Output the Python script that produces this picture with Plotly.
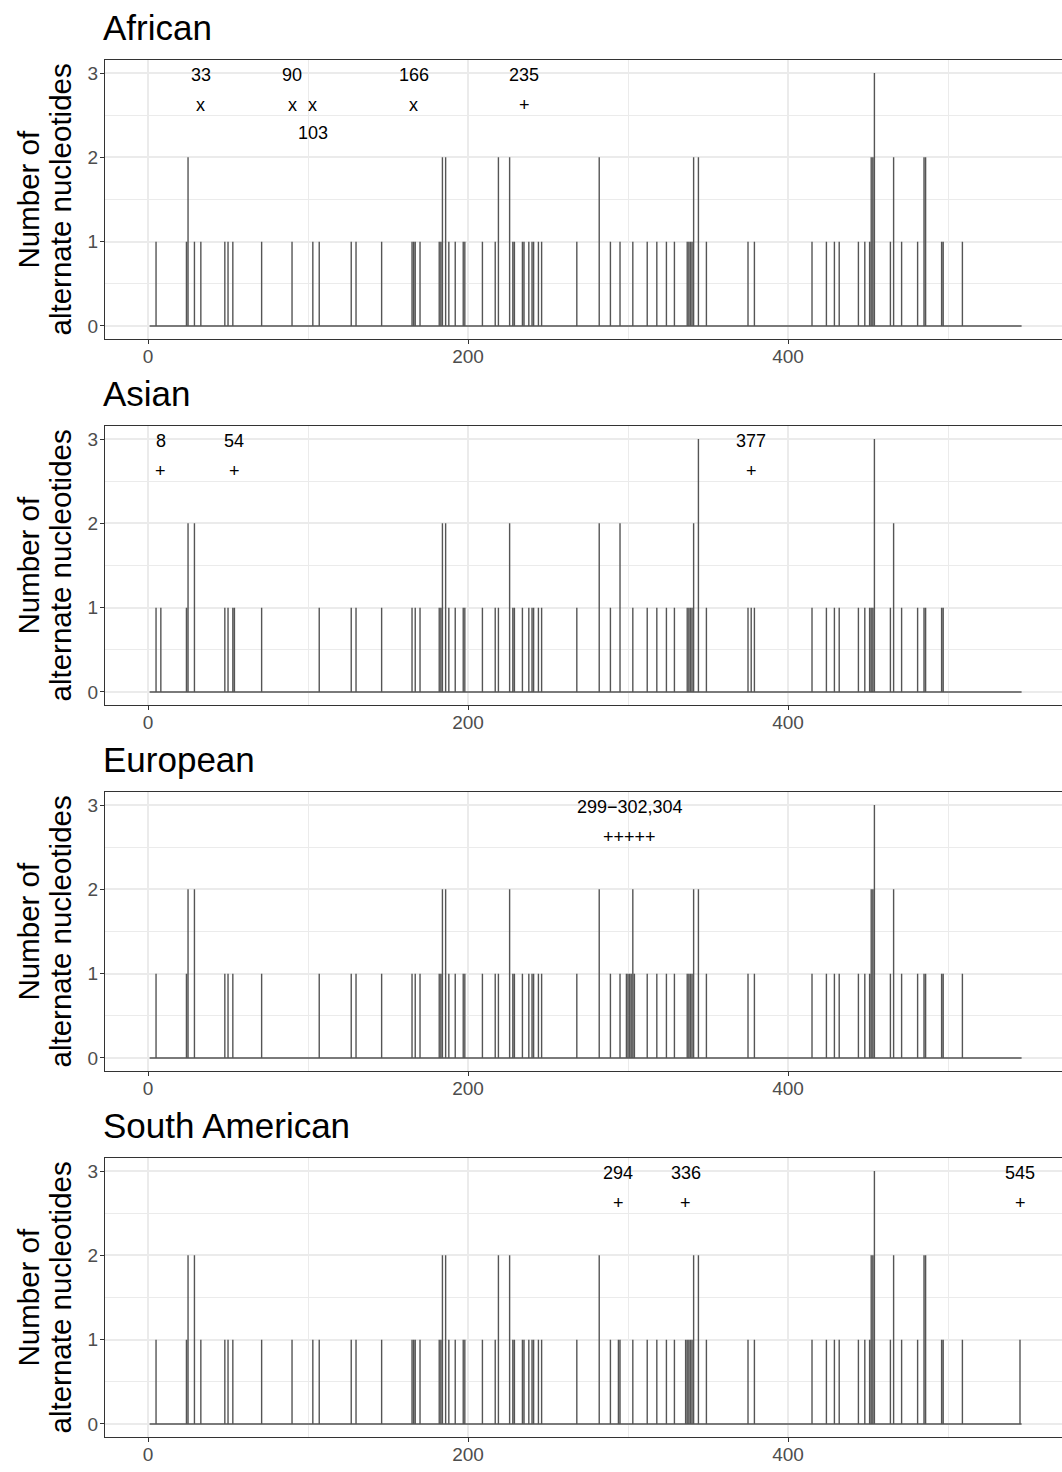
import plotly.graph_objects as go

# ---------------- data ----------------
populations = ["African", "Asian", "European", "South American"]

african_pos = [5, 24, 25, 29, 33, 48, 50, 53, 71, 90, 103, 107, 127, 130, 146, 165, 166, 167, 170,
               182, 183, 184, 186, 188, 192, 197, 198, 209, 217, 219, 226, 228, 229, 234, 235, 238,
               240, 241, 244, 246, 268, 282, 289, 295, 303, 312, 318, 324, 329, 337, 338, 339, 340,
               341, 344, 349, 375, 379, 415, 424, 429, 432, 444, 448, 451, 452, 453, 454, 464, 466,
               471, 481, 485, 486, 496, 497, 509]
african_val = [1, 1, 2, 1, 1, 1, 1, 1, 1, 1, 1, 1, 1, 1, 1, 1, 1, 1, 1,
               1, 1, 2, 2, 1, 1, 1, 1, 1, 1, 2, 2, 1, 1, 1, 1, 1,
               1, 1, 1, 1, 1, 2, 1, 1, 1, 1, 1, 1, 1, 1, 1, 1, 1,
               2, 2, 1, 1, 1, 1, 1, 1, 1, 1, 1, 1, 2, 2, 3, 1, 2,
               1, 1, 2, 2, 1, 1, 1]

asian_pos = [5, 8, 24, 25, 29, 48, 50, 53, 54, 71, 107, 127, 130, 146, 165, 167, 170,
             182, 183, 184, 186, 188, 192, 197, 198, 209, 217, 219, 226, 228, 229, 234, 238,
             240, 241, 244, 246, 268, 282, 289, 295, 303, 312, 318, 324, 329, 337, 338, 339, 340,
             341, 344, 349, 375, 377, 379, 415, 424, 429, 432, 444, 448, 451, 452, 453, 454, 464, 466,
             471, 481, 485, 486, 496, 497]
asian_val = [1, 1, 1, 2, 2, 1, 1, 1, 1, 1, 1, 1, 1, 1, 1, 1, 1,
             1, 1, 2, 2, 1, 1, 1, 1, 1, 1, 1, 2, 1, 1, 1, 1,
             1, 1, 1, 1, 1, 2, 1, 2, 1, 1, 1, 1, 1, 1, 1, 1, 1,
             2, 3, 1, 1, 1, 1, 1, 1, 1, 1, 1, 1, 1, 1, 1, 3, 1, 2,
             1, 1, 1, 1, 1, 1]

european_pos = [5, 24, 25, 29, 48, 50, 53, 71, 107, 127, 130, 146, 165, 167, 170,
                182, 183, 184, 186, 188, 192, 197, 198, 209, 217, 219, 226, 228, 229, 234, 238,
                240, 241, 244, 246, 268, 282, 289, 295, 299, 300, 301, 302, 303, 304, 312, 318, 324,
                329, 337, 338, 339, 340, 341, 344, 349, 375, 379, 415, 424, 429, 432, 444, 448, 451,
                452, 453, 454, 464, 466, 471, 481, 485, 486, 496, 497, 509]
european_val = [1, 1, 2, 2, 1, 1, 1, 1, 1, 1, 1, 1, 1, 1, 1,
                1, 1, 2, 2, 1, 1, 1, 1, 1, 1, 1, 2, 1, 1, 1, 1,
                1, 1, 1, 1, 1, 2, 1, 1, 1, 1, 1, 1, 2, 1, 1, 1, 1,
                1, 1, 1, 1, 1, 2, 2, 1, 1, 1, 1, 1, 1, 1, 1, 1, 1,
                2, 2, 3, 1, 2, 1, 1, 1, 1, 1, 1, 1]

south_american_pos = [5, 24, 25, 29, 33, 48, 50, 53, 71, 90, 103, 107, 127, 130, 146, 165, 166, 167, 170,
                      182, 183, 184, 186, 188, 192, 197, 198, 209, 217, 219, 226, 228, 229, 234, 235, 238,
                      240, 241, 244, 246, 268, 282, 289, 294, 295, 303, 312, 318, 324, 329, 336, 337, 338,
                      339, 340, 341, 344, 349, 375, 379, 415, 424, 429, 432, 444, 448, 451, 452, 453, 454,
                      464, 466, 471, 481, 485, 486, 496, 497, 509, 545]
south_american_val = [1, 1, 2, 2, 1, 1, 1, 1, 1, 1, 1, 1, 1, 1, 1, 1, 1, 1, 1,
                      1, 1, 2, 2, 1, 1, 1, 1, 1, 1, 2, 2, 1, 1, 1, 1, 1,
                      1, 1, 1, 1, 1, 2, 1, 1, 1, 1, 1, 1, 1, 1, 1, 1, 1,
                      1, 1, 2, 2, 1, 1, 1, 1, 1, 1, 1, 1, 1, 1, 2, 2, 3,
                      1, 2, 1, 1, 2, 2, 1, 1, 1, 1]

seq_start = 1
seq_end = 546

# marked sites: position, symbol, label, label height
african_mark_pos = [33, 90, 103, 166, 235]
african_mark_sym = ["x", "x", "x", "x", "+"]
african_mark_lab = ["33", "90", "103", "166", "235"]
african_mark_laby = [2.98, 2.98, 2.29, 2.98, 2.98]

asian_mark_pos = [8, 54, 377]
asian_mark_sym = ["+", "+", "+"]
asian_mark_lab = ["8", "54", "377"]
asian_mark_laby = [2.98, 2.98, 2.98]

european_group = [299, 300, 301, 302, 304]
european_mark_pos = [sum(european_group) / len(european_group)]
european_mark_sym = ["+++++"]
european_mark_lab = ["299\u2212302,304"]
european_mark_laby = [2.98]

south_american_mark_pos = [294, 336, 545]
south_american_mark_sym = ["+", "+", "+"]
south_american_mark_lab = ["294", "336", "545"]
south_american_mark_laby = [2.98, 2.98, 2.98]

y_title_lines = ["Number of", "alternate nucleotides"]

series = [
    (african_pos, african_val, african_mark_pos, african_mark_sym, african_mark_lab, african_mark_laby),
    (asian_pos, asian_val, asian_mark_pos, asian_mark_sym, asian_mark_lab, asian_mark_laby),
    (european_pos, european_val, european_mark_pos, european_mark_sym, european_mark_lab, european_mark_laby),
    (south_american_pos, south_american_val, south_american_mark_pos, south_american_mark_sym,
     south_american_mark_lab, south_american_mark_laby),
]

# ---------------- layout geometry (pixels) ----------------
W, H = 1062, 1472
panel_left = 105
panel_tops = [60.4, 426.4, 792.4, 1158.4]
panel_h = 278.2
SYM_Y = 2.62
y_title_x = [28, 60]

FONT = "Liberation Sans, Arial, Helvetica, sans-serif"
SPIKE = "#555555"
BORDER = "#333333"
GRID = "#EBEBEB"

fig = go.Figure()
annotations = []
layout_axes = {}

for i, (pos, val, mpos, msym, mlab, mlaby) in enumerate(series):
    n = i + 1
    xs, ys = [seq_start], [0]
    for p, v in zip(pos, val):
        xs += [p, p, p]
        ys += [0, v, 0]
    xs.append(seq_end)
    ys.append(0)
    xa = "x" if n == 1 else f"x{n}"
    ya = "y" if n == 1 else f"y{n}"
    fig.add_trace(go.Scatter(x=xs, y=ys, mode="lines",
                             line=dict(color=SPIKE, width=1.4),
                             xaxis=xa, yaxis=ya, showlegend=False, hoverinfo="skip"))

    top = panel_tops[i]
    bot = top + panel_h
    dom_y = [1 - bot / H, 1 - top / H]
    common_tick = dict(ticks="outside", ticklen=4, tickwidth=1.1, tickcolor=BORDER,
                       tickfont=dict(family=FONT, size=19, color="#4D4D4D"),
                       showgrid=True, gridcolor=GRID, gridwidth=2, zeroline=False,
                       showline=True, linecolor=BORDER, linewidth=1.3)
    layout_axes[f"xaxis{'' if n == 1 else n}"] = dict(
        domain=[panel_left / W, 1.0], anchor=ya, range=[-26.9, 571.25],
        tickvals=[0, 200, 400], mirror=True, ticklabelstandoff=-4,
        minor=dict(tickvals=[100, 300, 500], showgrid=True, gridcolor=GRID, gridwidth=1.1, ticks=""),
        **common_tick)
    layout_axes[f"yaxis{'' if n == 1 else n}"] = dict(
        domain=dom_y, anchor=xa, range=[-0.15, 3.15],
        tickvals=[0, 1, 2, 3], mirror=False, ticklabelstandoff=-2,
        minor=dict(tickvals=[0.5, 1.5, 2.5], showgrid=True, gridcolor=GRID, gridwidth=1.1, ticks=""),
        **common_tick)

    # panel title
    annotations.append(dict(xref="paper", yref="paper", x=101 / W, y=1 - (top - 33) / H,
                            xanchor="left", yanchor="middle", showarrow=False,
                            text=populations[i], font=dict(family=FONT, size=35, color="black")))
    # y axis title (two lines)
    for tx, line in zip(y_title_x, y_title_lines):
        annotations.append(dict(xref="paper", yref="paper", x=tx / W, y=1 - (top + panel_h / 2) / H,
                                xanchor="center", yanchor="middle", showarrow=False, textangle=-90,
                                text=line, font=dict(family=FONT, size=29.5, color="black")))
    # marks
    for p, s, lab, ly in zip(mpos, msym, mlab, mlaby):
        annotations.append(dict(xref=xa, yref=ya, x=p, y=SYM_Y, text=s, showarrow=False,
                                xanchor="center", yanchor="middle",
                                font=dict(family=FONT, size=18, color="black")))
        annotations.append(dict(xref=xa, yref=ya, x=p, y=ly, text=lab, showarrow=False,
                                xanchor="center", yanchor="middle",
                                font=dict(family=FONT, size=18, color="black")))

fig.update_layout(width=W, height=H, margin=dict(l=0, r=0, t=0, b=0),
                  paper_bgcolor="white", plot_bgcolor="white",
                  annotations=annotations, **layout_axes)

fig.write_html("out.html")
